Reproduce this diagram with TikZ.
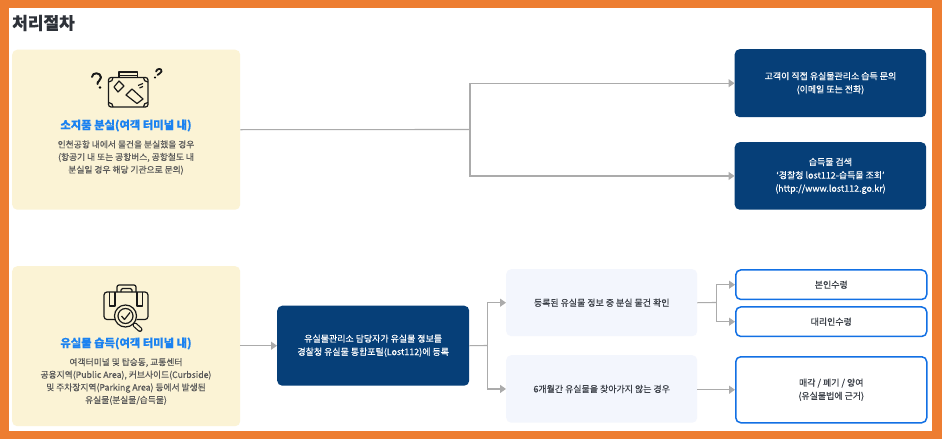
\documentclass[tikz,border=0pt]{standalone}
\usepackage{fontspec}
\setmainfont[FakeBold=0.25]{Noto Sans CJK KR}
\newfontfamily\medfont[FakeBold=0.4]{Noto Sans CJK KR}
\usetikzlibrary{arrows.meta}
\definecolor{frameor}{HTML}{ED7D31}
\definecolor{cardy}{HTML}{FBF3D5}
\definecolor{navy}{HTML}{063F78}
\definecolor{lightb}{HTML}{F3F6FD}
\definecolor{blueb}{HTML}{1270E4}
\definecolor{linegr}{HTML}{ABABAB}
\definecolor{txtd}{HTML}{3A3F47}
\definecolor{ttl}{HTML}{1B82F0}
\tikzset{
 cardbox/.style={fill=cardy,rounded corners=5pt,draw=none,inner sep=0,anchor=north west},
 navybox/.style={fill=navy,rounded corners=5pt,draw=none,inner sep=0,anchor=north west,text=white,font=\medfont\fontsize{8.95}{13.2}\selectfont,align=center},
 lightbox/.style={fill=lightb,rounded corners=5pt,draw=none,inner sep=0,anchor=north west,text=txtd,font=\medfont\fontsize{8.95}{13.2}\selectfont,align=center},
 outbox/.style={fill=white,rounded corners=5pt,draw=blueb,line width=1.5pt,inner sep=0,anchor=north west,text=txtd,font=\medfont\fontsize{8.95}{13.2}\selectfont,align=center},
 conn/.style={draw=linegr,line width=1.1pt},
 connarr/.style={conn,-{Triangle[length=6pt,width=8pt,fill=linegr]}},
 cardtitle/.style={text=ttl,font=\fontsize{11.3}{13}\bfseries\selectfont},
 carddesc/.style={text=black!65,font=\medfont\fontsize{8.75}{12.6}\selectfont,align=center},
 ico/.style={draw=black!90,line width=1.2pt,line join=round},
}
\begin{document}
\begin{tikzpicture}[x=1pt,y=-1pt]
\useasboundingbox (0,0) rectangle (942,439);
\fill[frameor] (0,0) rectangle (942,439);
\fill[white] (9,8) rectangle (932,431);
\node[anchor=west,inner sep=0,text=txtd!80!black,font=\fontsize{17}{18}\bfseries\selectfont] (heading) at (12,23) {처리절차};
% cards
\node[cardbox,minimum width=228pt,minimum height=160pt] (lost) at (12,49.5) {};
\node[cardbox,minimum width=228pt,minimum height=160pt] (found) at (12,266) {};
\node[cardtitle] (losttitle) at (126,125.5) {소지품 분실(여객 터미널 내)};
\node[carddesc] (lostdesc) at (126,157.5) {인천공항 내에서 물건을 분실했을 경우\\(항공기 내 또는 공항버스, 공항철도 내\\분실일 경우 해당 기관으로 문의)};
\node[cardtitle] (foundtitle) at (126,343.5) {유실물 습득(여객 터미널 내)};
\node[carddesc] (founddesc) at (126,381.5) {여객터미널 및 탑승동, 교통센터\\공용지역(Public Area), 커브사이드(Curbside)\\및 주차장지역(Parking Area) 등에서 발생된\\유실물(분실물/습득물)};
% navy
\node[navybox,minimum width=191.5pt,minimum height=68pt] (ask) at (734.5,49) {고객이 직접 유실물관리소 습득 문의\\(이메일 또는 전화)};
\node[navybox,minimum width=191.5pt,minimum height=67.5pt] (search) at (734.5,142) {습득물 검색\\‘경찰청 lost112-습득물 조회’\\(http://www.lost112.go.kr)};
\node[navybox,minimum width=192pt,minimum height=80pt] (reg) at (277,305.5) {유실물관리소 담당자가 유실물 정보를\\경찰청 유실물 통합포털(Lost112)에 등록};
% light
\node[lightbox,minimum width=191pt,minimum height=67pt] (check) at (506,269) {등록된 유실물 정보 중 분실 물건 확인};
\node[lightbox,minimum width=191pt,minimum height=67.5pt] (six) at (506,355) {6개월간 유실물을 찾아가지 않는 경우};
% outlined
\node[outbox,minimum width=191pt,minimum height=29.5pt] (self) at (735,269.2) {본인수령};
\node[outbox,minimum width=191pt,minimum height=29.5pt] (proxy) at (735,306.2) {대리인수령};
\node[outbox,minimum width=191pt,minimum height=66pt] (dispose) at (735,356) {매각 / 폐기 / 양여\\(유실물법에 근거)};
% connectors
\coordinate (j1) at (470,129.5);
\coordinate (j2) at (487.7,345.5);
\coordinate (j3) at (716.3,302.5);
\draw[conn] (lost.east) -- (j1);
\draw[connarr] (j1) |- (ask.west);
\draw[connarr] (j1) |- (search.west);
\draw[connarr] (found.east |- reg.west) -- (reg.west);
\draw[conn] (reg.east) -- (j2);
\draw[connarr,line width=1.4pt] (j2) |- (check.west);
\draw[connarr,line width=1.4pt] (j2) |- (six.west);
\draw[conn] (check.east) -- (j3);
\draw[connarr] (j3) |- (self.west);
\draw[connarr] (j3) |- (proxy.west);
\draw[connarr,line width=1.4pt] (six.east |- dispose.west) -- (dispose.west);
% suitcase icon
\begin{scope}[ico]
 \draw[rounded corners=2.5pt] (108.5,77.5) rectangle (148,107);
 \draw (119,77.5) -- (119,72) -- (137.5,72) -- (137.5,77.5);
 \draw (119,75.5) -- (137.5,75.5);
 \draw (108.5,82) .. controls (111.5,82) and (113,80) .. (113,77.5);
 \draw (148,82) .. controls (145,82) and (143.5,80) .. (143.5,77.5);
 \draw (108.5,102.5) .. controls (111.5,102.5) and (113,104.5) .. (113,107);
 \draw (148,102.5) .. controls (145,102.5) and (143.5,104.5) .. (143.5,107);
 \draw (119,81) -- (124,86) -- (118,92) -- (114,87) -- cycle;
 \draw (132,89) -- (143,99) -- (137,103.5) -- (126,95) -- cycle;
 \draw (138,85.5) -- (143,83.5) (139.5,88) -- (143,86.5);
 \draw[line width=2pt,line cap=round] (92,77) .. controls (92,72) and (101,72) .. (101,77.5) .. controls (101,81) and (97,81) .. (97.5,84);
 \fill[black] (100,87.5) circle (1.3pt);
 \draw[line width=1.8pt,line cap=round] (156,71.5) .. controls (157,68) and (162,68) .. (161.5,71.5) .. controls (161,74) and (158,73.5) .. (157.5,75);
 \fill[black] (155,77.5) circle (1.2pt);
 % found icon
 \draw[rounded corners=3pt] (116,319.5) -- (104,319.5) -- (104,292) -- (148,292) -- (148,319.5) -- (136.5,319.5);
 \draw[rounded corners=2pt] (117,292) -- (117,285) -- (136,285) -- (136,292);
 \draw[rounded corners=1.5pt] (121,292) -- (121,288.5) -- (132,288.5) -- (132,292);
 \draw (109.5,292) -- (109.5,306) -- (115,306) -- (115,292) (137,292) -- (137,306) -- (142.5,306) -- (142.5,292);
 \draw[fill=cardy] (125.5,316) circle (11pt);
 \draw (125.5,316) circle (7.5pt);
 \draw (121.5,316) -- (124.5,319.5) -- (130,312.5);
 \draw[line width=5pt,line cap=round] (135,325) -- (140,329.5);
 \draw[line width=2.6pt,line cap=round,draw=cardy] (135,325) -- (140,329.5);
\end{scope}
\end{tikzpicture}
\end{document}
